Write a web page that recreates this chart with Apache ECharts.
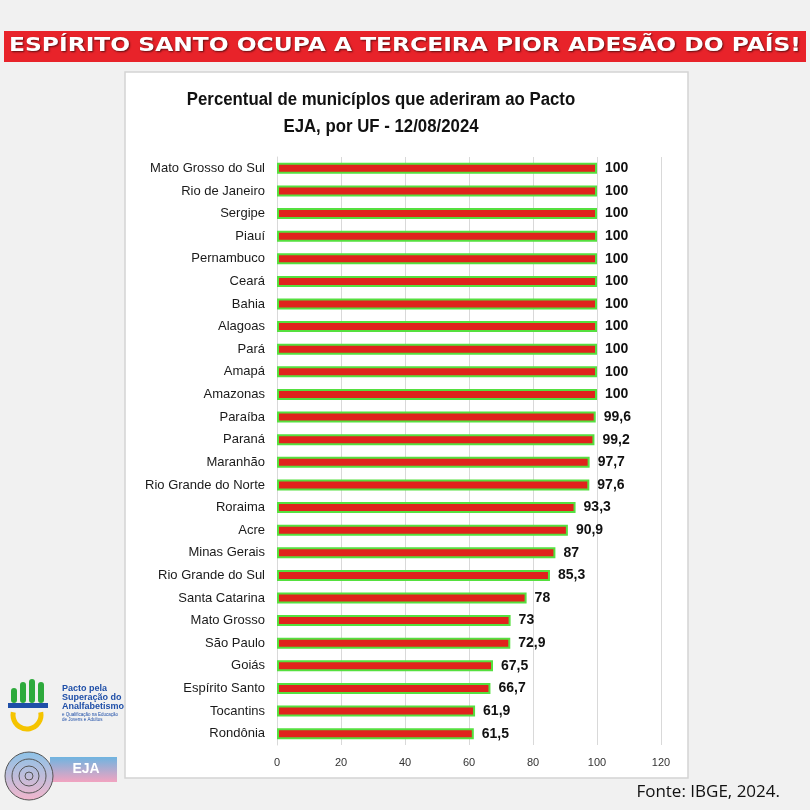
<!DOCTYPE html>
<html><head><meta charset="utf-8">
<script src="https://cdn.jsdelivr.net/npm/echarts@6/dist/echarts.min.js"></script>
<style>html,body{margin:0;padding:0;background:#f1f1f1;}#c{width:810px;height:810px;}</style>
</head><body><div id="c"></div>
<script>
const categories = ["Mato Grosso do Sul","Rio de Janeiro","Sergipe","Piauí","Pernambuco","Ceará","Bahia","Alagoas","Pará","Amapá","Amazonas","Paraíba","Paraná","Maranhão","Rio Grande do Norte","Roraima","Acre","Minas Gerais","Rio Grande do Sul","Santa Catarina","Mato Grosso","São Paulo","Goiás","Espírito Santo","Tocantins","Rondônia"];
const values = [100,100,100,100,100,100,100,100,100,100,100,99.6,99.2,97.7,97.6,93.3,90.9,87,85.3,78,73,72.9,67.5,66.7,61.9,61.5];
const xTicks = [0,20,40,60,80,100,120];
const bannerText = "ESPÍRITO SANTO OCUPA A TERCEIRA PIOR ADESÃO DO PAÍS!";
const titleLines = ["Percentual de municíplos que aderiram ao Pacto","EJA, por UF - 12/08/2024"];
const sourceText = "Fonte: IBGE, 2024.";

const chart = echarts.init(document.getElementById('c'), null, {renderer:'canvas'});
const fmt = v => String(v).replace('.', ',');
chart.setOption({
  backgroundColor: '#f1f1f1',
  animation: false,
  grid: {left: 277, right: 149, top: 157, bottom: 65, containLabel: false},
  xAxis: {
    type: 'value', min: 0, max: 120, interval: 20,
    axisLine: {show: false}, axisTick: {show: false},
    splitLine: {lineStyle: {color: '#d9d9d9', width: 1}},
    axisLabel: {color: '#333', fontSize: 11, margin: 12, fontFamily: 'Liberation Sans, sans-serif',
      formatter: v => xTicks.includes(v) ? String(v) : ''}
  },
  yAxis: {
    type: 'category', data: categories, inverse: true,
    axisLine: {show: true, lineStyle: {color: '#d9d9d9'}}, axisTick: {show: false},
    axisLabel: {color: '#1a1a1a', fontSize: 13, margin: 12, fontFamily: 'Liberation Sans, sans-serif'}
  },
  series: [{
    type: 'bar', data: values, barWidth: 11,
    itemStyle: {color: '#e0231c', borderColor: '#55e03f', borderWidth: 2},
    label: {show: true, position: 'right', distance: 8, formatter: p => fmt(p.value),
      color: '#111', fontWeight: 'bold', fontSize: 14, fontFamily: 'Liberation Sans, sans-serif'}
  }],
  graphic: [
    {type: 'rect', z: -10, shape: {x: 125, y: 72, width: 563, height: 706}, style: {fill: '#ffffff', stroke: '#d4d4d4', lineWidth: 1.5}},
    {type: 'rect', shape: {x: 4, y: 31, width: 802, height: 31}, style: {fill: '#e8232a'}},
    {type: 'text', x: 405, y: 46, scaleX: 1.23, style: {text: bannerText, fill: '#ffffff', fontSize: 19, fontWeight: 'bold',
      fontFamily: '"DejaVu Sans", sans-serif', align: 'center', verticalAlign: 'middle',
      textShadowColor: 'rgba(0,0,0,0.6)', textShadowBlur: 2, textShadowOffsetX: 1, textShadowOffsetY: 1}},
    {type: 'text', x: 381, y: 100, scaleX: 0.96, style: {text: titleLines[0], fill: '#111', fontSize: 17.5, fontWeight: 'bold',
      fontFamily: '"Liberation Sans", sans-serif', align: 'center', verticalAlign: 'middle'}},
    {type: 'text', x: 381, y: 127, scaleX: 0.96, style: {text: titleLines[1], fill: '#111', fontSize: 17.5, fontWeight: 'bold',
      fontFamily: '"Liberation Sans", sans-serif', align: 'center', verticalAlign: 'middle'}},
    {type: 'text', x: 780, y: 792, style: {text: sourceText, fill: '#111', fontSize: 17, fontFamily: '"Open Sans", sans-serif', align: 'right', verticalAlign: 'middle'}},
    // logo approximation: Pacto pela Superação do Analfabetismo
    {type: 'rect', shape: {x: 11, y: 688, width: 6, height: 15, r: 3}, style: {fill: '#2eaa3c'}},
    {type: 'rect', shape: {x: 20, y: 682, width: 6, height: 21, r: 3}, style: {fill: '#2eaa3c'}},
    {type: 'rect', shape: {x: 29, y: 679, width: 6, height: 24, r: 3}, style: {fill: '#2eaa3c'}},
    {type: 'rect', shape: {x: 38, y: 682, width: 6, height: 21, r: 3}, style: {fill: '#2eaa3c'}},
    {type: 'rect', shape: {x: 8, y: 703, width: 40, height: 5}, style: {fill: '#1f4fa8'}},
    {type: 'arc', shape: {cx: 27, cy: 715, r: 14, startAngle: -0.2, endAngle: Math.PI + 0.2, clockwise: true}, style: {stroke: '#f5c400', lineWidth: 5, fill: null}},
    {type: 'text', x: 62, y: 698, style: {text: 'Pacto pela\nSuperação do\nAnalfabetismo', fill: '#1f4fa8', fontSize: 9, fontWeight: 'bold', lineHeight: 9, fontFamily: 'Liberation Sans, sans-serif', verticalAlign: 'middle'}},
    {type: 'text', x: 62, y: 717, style: {text: 'e Qualificação na Educação\nde Jovens e Adultos', fill: '#1f4fa8', fontSize: 4.5, lineHeight: 5, fontFamily: 'Liberation Sans, sans-serif', verticalAlign: 'middle'}},
    // EJA forum logo approximation
    {type: 'rect', shape: {x: 50, y: 757, width: 67, height: 25}, style: {fill: new echarts.graphic.LinearGradient(0,0,0,1,[{offset:0,color:'#6fb4e0'},{offset:1,color:'#f2a3c0'}])}},
    {type: 'circle', shape: {cx: 29, cy: 776, r: 24}, style: {fill: new echarts.graphic.LinearGradient(0,0,0,1,[{offset:0,color:'#8cc3e8'},{offset:1,color:'#f3b6cc'}]), stroke: '#555', lineWidth: 1}},
    {type: 'circle', shape: {cx: 29, cy: 776, r: 17}, style: {fill: 'none', stroke: '#555', lineWidth: 1}},
    {type: 'circle', shape: {cx: 29, cy: 776, r: 10}, style: {fill: 'none', stroke: '#555', lineWidth: 1}},
    {type: 'circle', shape: {cx: 29, cy: 776, r: 4}, style: {fill: 'none', stroke: '#555', lineWidth: 1}},
    {type: 'text', x: 86, y: 769, style: {text: 'EJA', fill: '#ffffff', fontSize: 14, fontWeight: 'bold', align: 'center', verticalAlign: 'middle', fontFamily: 'Liberation Sans, sans-serif'}}
  ]
});
</script></body></html>
